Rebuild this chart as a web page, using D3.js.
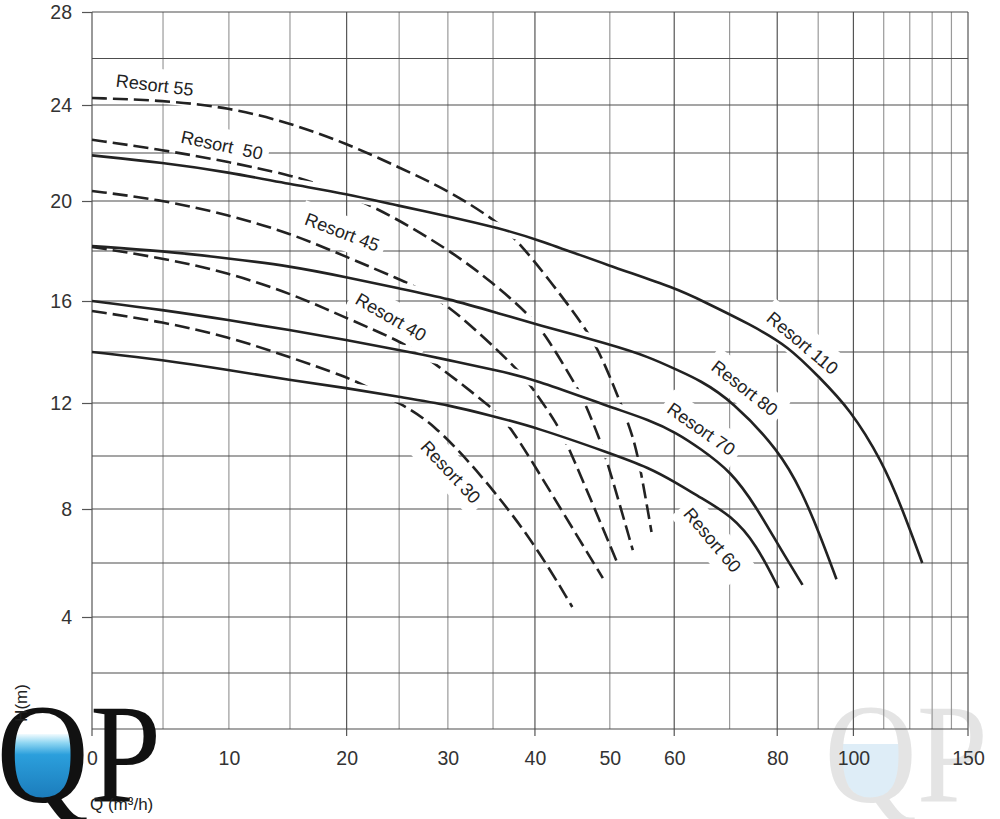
<!DOCTYPE html>
<html>
<head>
<meta charset="utf-8">
<script src="https://cdn.jsdelivr.net/npm/d3@7/dist/d3.min.js"></script>
<style>
  body { margin: 0; background: #fff; }
  svg { display: block; }
  text { font-family: "Liberation Sans", Arial, sans-serif; }
</style>
</head>
<body>
<div id="chart"></div>
<script>
// axis values (Q in m3/h on a squeezed axis, H in m)
const xTicks = [0, 10, 20, 30, 40, 50, 60, 80, 100, 150];
const xGrid = [0, 5, 10, 15, 20, 25, 30, 35, 40, 50, 60, 70, 80, 90, 100, 110, 120, 130, 140, 150];
const xMajor = [0, 20, 40, 60, 80, 100, 150];
const yTicks = [4, 8, 12, 16, 20, 24, 28];
const yGrid = [0, 2, 4, 6, 8, 10, 12, 14, 16, 18, 20, 22, 24, 26, 28];

// pump curves, [Q, H]
const resort110 = [[0, 21.9], [5, 21.6], [10, 21.2], [15, 20.7], [20, 20.3], [25, 19.8], [30, 19.4], [35.8, 18.9], [40, 18.5], [50, 17.4], [60.4, 16.5], [64.9, 16.0], [74, 15.1], [82.8, 14.2], [90.3, 13.0], [98.8, 11.8], [109.5, 9.8], [117, 8.0], [125.4, 6.0]];
const resort80 = [[0, 18.2], [5, 18.0], [10, 17.7], [15, 17.4], [20, 16.95], [25, 16.5], [30, 16.1], [35.8, 15.5], [40, 15.1], [50, 14.3], [56, 13.8], [60.4, 13.3], [64.4, 12.9], [70.4, 12.1], [80.5, 10.2], [86, 8.6], [90.3, 7.1], [95, 5.4]];
const resort70 = [[0, 16.0], [5, 15.65], [10, 15.25], [15, 14.86], [20, 14.47], [25, 14.08], [30, 13.69], [35.8, 13.25], [39.7, 12.95], [50, 11.85], [56, 11.36], [60.4, 10.87], [64.4, 10.3], [70.4, 9.4], [75.4, 8.08], [80.5, 6.59], [86, 5.19]];
const resort60 = [[0, 14.0], [5, 13.69], [10, 13.29], [15, 12.9], [20, 12.59], [25, 12.24], [30.2, 11.92], [35, 11.5], [40, 11.09], [50, 10.11], [56, 9.55], [60.4, 8.98], [64.4, 8.45], [70.4, 7.75], [75.4, 6.7], [80.3, 5.07]];
const resort55 = [[0, 24.3], [5, 24.2], [10, 23.9], [15, 23.25], [20, 22.4], [25, 21.4], [30, 20.45], [35.2, 19.25], [37.8, 18.45], [41.8, 16.85], [46.5, 14.98], [48.8, 13.88], [52.4, 11.47], [53.7, 10.49], [54.7, 9.36], [56.3, 7.15]];
const resort50 = [[0, 22.55], [5, 22.13], [10, 21.63], [15, 21.08], [17.2, 20.75], [22.7, 19.8], [30.2, 18.04], [35, 16.72], [39.35, 15.45], [41.5, 14.59], [45.5, 12.59], [46.5, 12.0], [48.5, 10.68], [49.7, 9.74], [53.4, 6.48]];
const resort45 = [[0, 20.42], [5, 20.04], [10, 19.44], [15, 18.72], [20, 17.76], [25, 16.88], [27.8, 16.35], [30.95, 15.57], [37.8, 13.37], [39.6, 12.63], [42.75, 11.25], [44.4, 10.3], [51.1, 6.0]];
const resort40 = [[0, 18.16], [5, 17.72], [10, 17.12], [15, 16.32], [20, 15.33], [25.55, 14.35], [28.6, 13.57], [34.95, 11.81], [37.05, 11.13], [41.8, 8.72], [49, 5.44]];
const resort30 = [[0, 15.61], [5, 15.18], [10, 14.59], [15, 13.8], [20, 13.02], [21.9, 12.63], [25.06, 12.0], [28.4, 11.25], [33.5, 9.36], [39.7, 6.85], [44.8, 4.37]];

const solidCurves = [resort110, resort80, resort70, resort60];
const dashedCurves = [resort55, resort50, resort45, resort40, resort30];

// label text, Q, H, angle
const curveLabels = [
  ["Resort 55", 4.4, 24.86, 7],
  ["Resort  50", 9.45, 22.33, 12],
  ["Resort 45", 19.6, 18.76, 21],
  ["Resort 40", 24.2, 15.37, 30],
  ["Resort 30", 30.3, 9.4, 47],
  ["Resort 110", 86.0, 14.35, 40],
  ["Resort 80", 73.0, 12.59, 38],
  ["Resort 70", 64.7, 11.02, 35],
  ["Resort 60", 66.75, 6.85, 50]
];

let width = 1000, height = 819;
let margin = {top: 12, right: 32, bottom: 90, left: 92};

// the Q axis is squeezed like 1 - exp(-Q/L)
const L = 66.3;
const warp = q => 1 - Math.exp(-q / L);
const qs = d3.range(0, 151);
const xLin = d3.scaleLinear().domain([warp(0), warp(150)]).range([margin.left, width - margin.right]);
const xScale = d3.scaleLinear().domain(qs).range(qs.map(q => xLin(warp(q))));
// H axis of the scan is a bit stretched towards the bottom
const yScale = d3.scaleLinear()
    .domain([0, 4, 8, 12, 16, 20, 24, 28])
    .range([729, 617, 509, 403, 301, 201, 105, 12]);

const line = d3.line()
    .x(d => xScale(d[0]))
    .y(d => yScale(d[1]))
    .curve(d3.curveBasis);

const svg = d3.select("#chart").append("svg")
    .attr("width", width)
    .attr("height", height);

const defs = svg.append("defs");
const serif = "'Liberation Serif', 'Times New Roman', serif";

// watermark at the bottom right
const wm = svg.append("g").attr("opacity", 0.75);
defs.append("clipPath").attr("id", "wm-in")
    .append("ellipse").attr("cx", 874).attr("cy", 758).attr("rx", 34).attr("ry", 43);
wm.append("rect")
    .attr("x", 835).attr("y", 744).attr("width", 80).attr("height", 70)
    .attr("fill", "#d3e8f5")
    .attr("clip-path", "url(#wm-in)");
wm.append("g")
    .attr("transform", "scale(0.9,1)")
    .append("text")
    .attr("x", 916).attr("y", 802)
    .style("font-family", serif)
    .style("font-size", "142px")
    .attr("fill", "#dcdcdc")
    .text("QP");

// grid, the darker verticals poke out under the axis
svg.append("g")
    .selectAll("line")
    .data(xGrid)
    .join("line")
    .attr("x1", d => xScale(d)).attr("x2", d => xScale(d))
    .attr("y1", d => xMajor.includes(d) ? yScale(0) + 7 : yScale(0))
    .attr("y2", yScale(28))
    .attr("stroke", d => xMajor.includes(d) ? "#555" : "#9a9a9a")
    .attr("stroke-width", 1.2);

svg.append("g")
    .selectAll("line")
    .data(yGrid)
    .join("line")
    .attr("x1", xScale(0)).attr("x2", xScale(150))
    .attr("y1", d => yScale(d)).attr("y2", d => yScale(d))
    .attr("stroke", "#4d4d4d")
    .attr("stroke-width", 1.2);

// axes
const xAxis = d3.axisBottom(xScale).tickValues(xTicks).tickSize(0).tickPadding(22);
const yAxis = d3.axisLeft(yScale).tickValues(yTicks).tickSize(10).tickPadding(10);

function styleAxis(g) {
    g.attr("font-family", null).attr("font-size", null);
    g.select(".domain").remove();
    g.selectAll("line").attr("stroke", "#555").attr("stroke-width", 1.2);
    g.selectAll("text").attr("fill", "#333").style("font-size", "19.5px");
}

svg.append("g")
    .attr("transform", `translate(0,${yScale(0)})`)
    .call(xAxis)
    .call(styleAxis);

svg.append("g")
    .attr("transform", `translate(${xScale(0)},0)`)
    .call(yAxis)
    .call(styleAxis);

// white patches behind the curve names
const labelBg = svg.append("g");

// dashed curves are broken where a solid curve crosses them
const mask = defs.append("mask")
    .attr("id", "cross-gaps")
    .attr("maskUnits", "userSpaceOnUse")
    .attr("x", 0).attr("y", 0).attr("width", width).attr("height", height);
mask.append("rect").attr("width", width).attr("height", height).attr("fill", "white");
mask.append("g").selectAll("path")
    .data(solidCurves)
    .join("path")
    .attr("d", line)
    .attr("fill", "none")
    .attr("stroke", "black")
    .attr("stroke-width", 12);
mask.append("rect").attr("width", xScale(8)).attr("height", height).attr("fill", "white");

svg.append("g")
    .attr("mask", "url(#cross-gaps)")
    .selectAll("path")
    .data(dashedCurves)
    .join("path")
    .attr("d", line)
    .attr("fill", "none")
    .attr("stroke", "#222")
    .attr("stroke-width", 2.6)
    .attr("stroke-dasharray", "15,6");

svg.append("g")
    .selectAll("path")
    .data(solidCurves)
    .join("path")
    .attr("d", line)
    .attr("fill", "none")
    .attr("stroke", "#222")
    .attr("stroke-width", 2.6);

const labelLayer = svg.append("g");
curveLabels.forEach(([txt, q, h, angle]) => {
    let tr = `translate(${xScale(q)},${yScale(h)}) rotate(${angle})`;
    let t = labelLayer.append("text")
        .attr("transform", tr)
        .attr("text-anchor", "middle")
        .attr("dy", "0.35em")
        .style("font-size", "18px")
        .style("white-space", "pre")
        .attr("fill", "#222")
        .text(txt);
    let b = t.node().getBBox();
    labelBg.append("rect")
        .attr("transform", tr)
        .attr("x", b.x - 6).attr("y", b.y - 7)
        .attr("width", b.width + 12).attr("height", b.height + 14)
        .attr("fill", "#fff");
});

// QP logo bottom left
const logo = svg.append("g");
defs.append("clipPath").attr("id", "q-in")
    .append("ellipse").attr("cx", 47).attr("cy", 758).attr("rx", 36).attr("ry", 44);
const water = defs.append("linearGradient")
    .attr("id", "water")
    .attr("x1", 0).attr("y1", 0).attr("x2", 0).attr("y2", 1);
water.append("stop").attr("offset", "0%").attr("stop-color", "#f2fbfe");
water.append("stop").attr("offset", "12%").attr("stop-color", "#8fd6f2");
water.append("stop").attr("offset", "28%").attr("stop-color", "#2b9fdc");
water.append("stop").attr("offset", "100%").attr("stop-color", "#1874b4");
logo.append("rect")
    .attr("x", 5).attr("y", 734).attr("width", 90).attr("height", 74)
    .attr("fill", "url(#water)")
    .attr("clip-path", "url(#q-in)");
const logoText = logo.append("g").attr("transform", "scale(0.9,1)");
logoText.append("text")
    .attr("x", -4).attr("y", 802)
    .style("font-family", serif)
    .style("font-size", "142px")
    .attr("fill", "#111")
    .text("Q");
logoText.append("text")
    .attr("x", 100).attr("y", 802)
    .style("font-family", serif)
    .style("font-size", "142px")
    .attr("fill", "#111")
    .text("P");

// axis names
svg.append("text")
    .attr("transform", "translate(27,703) rotate(-90)")
    .attr("text-anchor", "middle")
    .style("font-size", "17px")
    .attr("fill", "#222")
    .text("H(m)");

svg.append("text")
    .attr("x", 90).attr("y", 810)
    .style("font-size", "17px")
    .attr("fill", "#222")
    .text("Q (m³/h)");
</script>
</body>
</html>
